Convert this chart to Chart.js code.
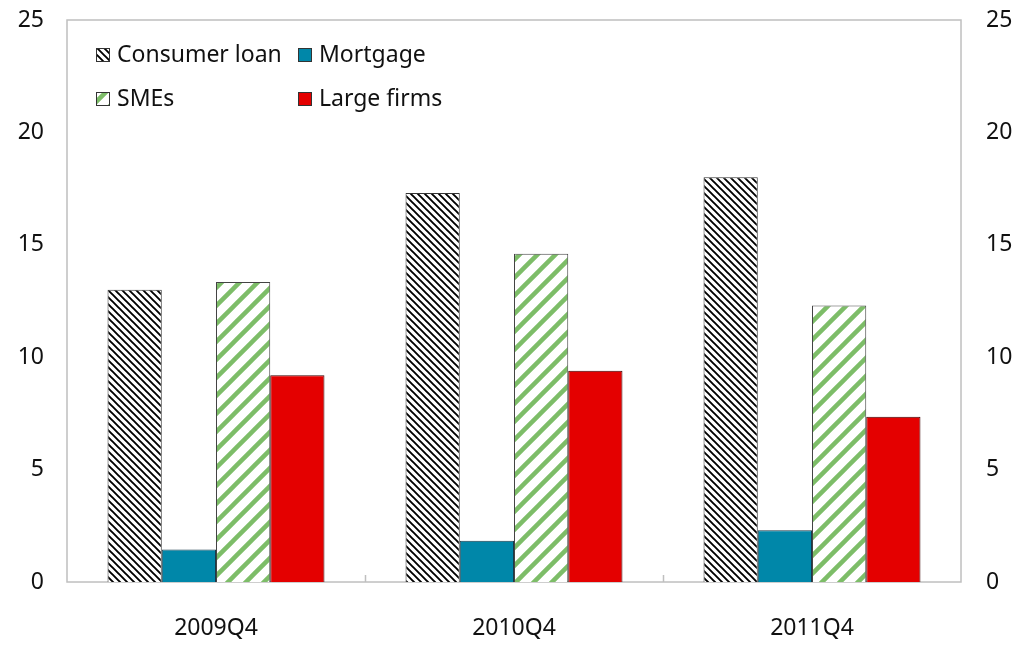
<!DOCTYPE html>
<html>
<head>
<meta charset="utf-8">
<script src="https://cdn.jsdelivr.net/npm/chart.js@4.4.0/dist/chart.umd.min.js"></script>
<style>
  html, body { margin: 0; padding: 0; background: #fff; }
  #wrap { width: 1023px; height: 645px; }
</style>
</head>
<body>
<div id="wrap"><canvas id="myChart" width="1023" height="645"></canvas></div>
<script>
// data
const categories = ['2009Q4', '2010Q4', '2011Q4'];
const consumerLoan = [13.0, 17.3, 18.0];
const mortgage = [1.45, 1.83, 2.3];
const smes = [13.35, 14.6, 12.3];
const largeFirms = [9.2, 9.4, 7.35];
const yTicks = [0, 5, 10, 15, 20, 25];

// hatch patterns
function polaGaris() {
    const c = document.createElement('canvas');
    c.width = 7; c.height = 7;
    const g = c.getContext('2d');
    g.fillStyle = '#fff';
    g.fillRect(0, 0, 7, 7);
    g.strokeStyle = '#000';
    g.lineWidth = 1.9;
    g.beginPath();
    g.moveTo(-1, -1); g.lineTo(8, 8);
    g.moveTo(-1, 6); g.lineTo(1, 8);
    g.moveTo(6, -1); g.lineTo(8, 1);
    g.stroke();
    return g.createPattern(c, 'repeat');
}

function polaHijau() {
    const s = 18;
    const c = document.createElement('canvas');
    c.width = s; c.height = s;
    const g = c.getContext('2d');
    g.fillStyle = '#fff';
    g.fillRect(0, 0, s, s);
    g.strokeStyle = '#7dbd68';
    g.lineWidth = 4.5;
    g.beginPath();
    g.moveTo(-2, s + 2); g.lineTo(s + 2, -2);
    g.moveTo(-2, 2); g.lineTo(2, -2);
    g.moveTo(s - 2, s + 2); g.lineTo(s + 2, s - 2);
    g.stroke();
    return g.createPattern(c, 'repeat');
}

const pat1 = polaGaris();
const pat2 = polaHijau();

// frame, inner ticks and legend
const bingkai = {
    id: 'bingkai',
    beforeDatasetsDraw(chart) {
        const a = chart.chartArea;
        const ctx = chart.ctx;
        const x = chart.scales.x;
        ctx.save();
        ctx.strokeStyle = '#bfbfbf';
        ctx.lineWidth = 1.5;
        ctx.strokeRect(a.left, a.top, a.right - a.left, a.bottom - a.top);
        for (let i = 0; i < categories.length - 1; i++) {
            const px = Math.round((x.getPixelForValue(i) + x.getPixelForValue(i + 1)) / 2) + 0.5;
            ctx.beginPath();
            ctx.moveTo(px, a.bottom);
            ctx.lineTo(px, a.bottom - 7);
            ctx.stroke();
        }
        ctx.restore();
    },
    afterDraw(chart) {
        const ctx = chart.ctx;
        const a = chart.chartArea;
        const pos = [[a.left + 29, a.top + 35], [a.left + 231, a.top + 35],
                     [a.left + 29, a.top + 79], [a.left + 231, a.top + 79]];
        ctx.save();
        ctx.font = '23px "Noto Sans"';
        ctx.textBaseline = 'middle';
        chart.data.datasets.forEach((ds, i) => {
            const [bx, by] = pos[i];
            ctx.fillStyle = ds.backgroundColor;
            ctx.fillRect(bx, by - 7, 14, 14);
            ctx.strokeStyle = '#333';
            ctx.lineWidth = 1;
            ctx.strokeRect(bx + 0.5, by - 6.5, 13, 13);
            ctx.fillStyle = '#111';
            ctx.fillText(ds.label, bx + 21, by);
        });
        ctx.restore();
    }
};

const tickFont = { family: 'Noto Sans', size: 23 };

new Chart(document.getElementById('myChart').getContext('2d'), {
    type: 'bar',
    data: {
        labels: categories,
        datasets: [
            { label: 'Consumer loan', data: consumerLoan, backgroundColor: pat1, borderColor: '#333', borderWidth: 1 },
            { label: 'Mortgage', data: mortgage, backgroundColor: '#0087a9', borderColor: '#1a3a4a', borderWidth: 1 },
            { label: 'SMEs', data: smes, backgroundColor: pat2, borderColor: '#444', borderWidth: 1 },
            { label: 'Large firms', data: largeFirms, backgroundColor: '#e40000', borderColor: '#3a0000', borderWidth: 1 }
        ]
    },
    options: {
        responsive: false,
        animation: false,
        layout: { padding: { top: 20, left: 0, right: 0, bottom: 0 } },
        datasets: { bar: { categoryPercentage: 0.728, barPercentage: 1.0 } },
        plugins: {
            legend: { display: false },
            tooltip: { enabled: false }
        },
        scales: {
            x: {
                grid: { display: false },
                border: { display: false },
                ticks: { font: tickFont, color: '#111', padding: 25 },
                afterFit(s) { s.height = 63; }
            },
            y: {
                position: 'left',
                min: 0, max: 25,
                afterBuildTicks(s) { s.ticks = yTicks.map(v => ({ value: v })); },
                grid: { display: false },
                border: { display: false },
                ticks: { font: tickFont, color: '#111', padding: 15 },
                afterFit(s) { s.width = 67; s.paddingTop = 0; s.paddingBottom = 0; }
            },
            y2: {
                position: 'right',
                min: 0, max: 25,
                afterBuildTicks(s) { s.ticks = yTicks.map(v => ({ value: v })); },
                grid: { display: false },
                border: { display: false },
                ticks: { font: tickFont, color: '#111', padding: 17 },
                afterFit(s) { s.width = 62; s.paddingTop = 0; s.paddingBottom = 0; }
            }
        }
    },
    plugins: [bingkai]
});
</script>
</body>
</html>
